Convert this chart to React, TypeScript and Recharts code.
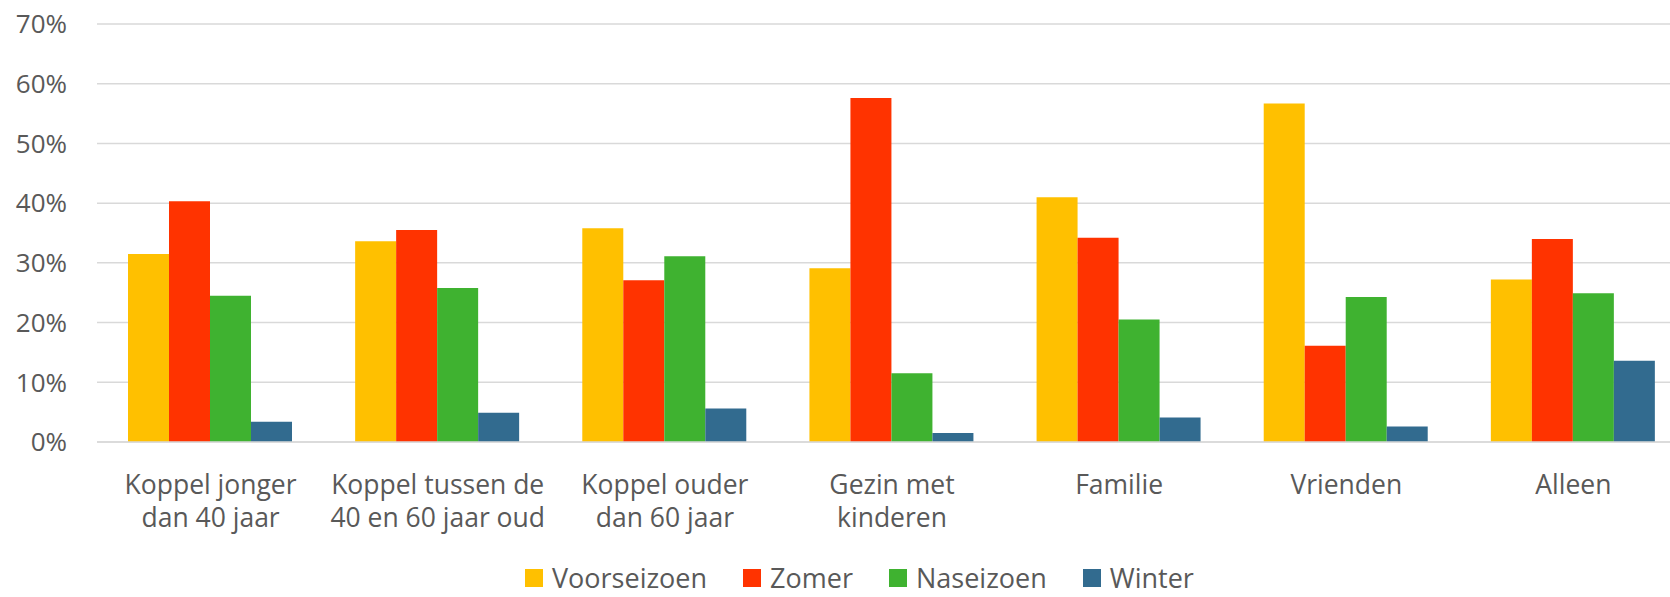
import { BarChart, Bar, XAxis, YAxis, CartesianGrid } from 'recharts'

const categories = [
  'Koppel jonger\ndan 40 jaar',
  'Koppel tussen de\n40 en 60 jaar oud',
  'Koppel ouder\ndan 60 jaar',
  'Gezin met\nkinderen',
  'Familie',
  'Vrienden',
  'Alleen',
]

const voorseizoen = [31.5, 33.6, 35.8, 29.1, 41.0, 56.7, 27.2]
const zomer = [40.3, 35.5, 27.1, 57.6, 34.2, 16.1, 34.0]
const naseizoen = [24.5, 25.8, 31.1, 11.5, 20.5, 24.3, 24.9]
const winter = [3.4, 4.9, 5.6, 1.5, 4.1, 2.6, 13.6]

const yTicks = [0, 10, 20, 30, 40, 50, 60, 70]

const series = [
  { key: 'Voorseizoen', color: '#FFC000' },
  { key: 'Zomer', color: '#FF3300' },
  { key: 'Naseizoen', color: '#3FB230' },
  { key: 'Winter', color: '#326B8F' },
]

const data = categories.map((cat, i) => ({
  cat,
  Voorseizoen: voorseizoen[i],
  Zomer: zomer[i],
  Naseizoen: naseizoen[i],
  Winter: winter[i],
}))

const FONT = '"Open Sans", sans-serif'
const TEXT = '#595959'

function CategoryTick({ x, y, payload }: any) {
  const lines = String(payload.value).split('\n')
  return (
    <text x={x} y={y + 52} textAnchor="middle" fill={TEXT} fontSize={26.5} fontFamily={FONT}>
      {lines.map((l, i) => (
        <tspan key={i} x={x} dy={i === 0 ? 0 : 33.4}>{l}</tspan>
      ))}
    </text>
  )
}

// legend drawn as plain html under the plot
function SeasonLegend() {
  return (
    <div
      style={{
        position: 'absolute', left: 525, top: 566, height: 24,
        display: 'flex', alignItems: 'center', whiteSpace: 'nowrap',
        fontFamily: FONT, fontSize: 27, color: TEXT, lineHeight: '24px',
      }}
    >
      {series.map((s) => (
        <div key={s.key} style={{ display: 'flex', alignItems: 'center', marginRight: 36 }}>
          <span style={{ width: 18, height: 18, background: s.color, marginRight: 9, display: 'inline-block' }} />
          <span>{s.key}</span>
        </div>
      ))}
    </div>
  )
}

export default function App() {
  return (
    <div style={{ position: 'absolute', left: 0, top: 0, width: 1670, height: 597, overflow: 'hidden', background: '#fff' }}>
      <BarChart
        width={1700}
        height={597}
        data={data}
        margin={{ top: 24, right: 13, left: 0, bottom: 125 }}
        barCategoryGap={31}
        barGap={0}
      >
        <CartesianGrid vertical={false} stroke="#d9d9d9" strokeWidth={1.5} />
        <XAxis
          dataKey="cat"
          height={30}
          interval={0}
          tickSize={0}
          tickMargin={0}
          axisLine={{ stroke: '#d9d9d9', strokeWidth: 1.5 }}
          tickLine={false}
          tick={<CategoryTick />}
        />
        <YAxis
          width={97}
          domain={[0, 70]}
          ticks={yTicks}
          tickFormatter={(v) => `${v}%`}
          axisLine={false}
          tickLine={false}
          tickSize={0}
          tickMargin={30}
          tick={{ fontSize: 26, fill: TEXT, fontFamily: FONT }}
        />
        {series.map((s) => (
          <Bar key={s.key} dataKey={s.key} fill={s.color} isAnimationActive={false} />
        ))}
      </BarChart>
      <SeasonLegend />
    </div>
  )
}
